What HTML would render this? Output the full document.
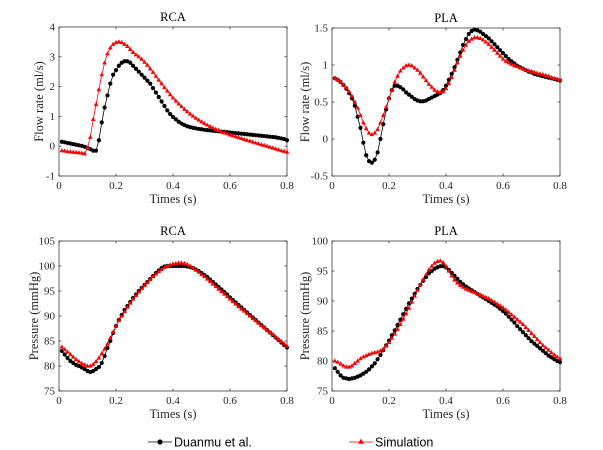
<!DOCTYPE html>
<html><head><meta charset="utf-8"><style>
body{margin:0;background:#fff}
svg{display:block}
</style></head><body>
<svg id="fig" width="603" height="450" viewBox="0 0 603 450"></svg>
<script>
const times=[];for(let i=1;i<=80;i++)times.push(i/100);
const xTicks=[0,0.2,0.4,0.6,0.8];
const xTickLabels=["0","0.2","0.4","0.6","0.8"];
const titles=["RCA","PLA","RCA","PLA"];
const yLabels=["Flow rate (ml/s)","Flow rate (ml/s)","Pressure (mmHg)","Pressure (mmHg)"];
const yTicksRcaFlow=[-1,0,1,2,3,4];
const yTicksPlaFlow=[-0.5,0,0.5,1,1.5];
const yTicksRcaP=[75,80,85,90,95,100,105];
const yTicksPlaP=[75,80,85,90,95,100];
const seriesNames=["Duanmu et al.","Simulation"];
const rcaFlowDuanmu=[.15,.13,.11,.09,.07,.05,.03,.01,-.02,-.06,-.1,-.15,-.15,.2,.8,1.3,1.7,2.1,2.4,2.55,2.7,2.8,2.85,2.85,2.8,2.7,2.6,2.5,2.4,2.3,2.2,2.1,1.95,1.8,1.65,1.5,1.35,1.2,1.08,.98,.9,.82,.76,.71,.67,.64,.62,.6,.58,.57,.55,.54,.53,.52,.51,.5,.49,.48,.47,.46,.45,.44,.43,.42,.41,.4,.39,.38,.37,.36,.35,.34,.33,.32,.31,.3,.28,.26,.24,.2];
const rcaFlowSim=[-.15,-.16,-.18,-.19,-.2,-.21,-.22,-.23,-.25,-.05,.3,.9,1.4,1.9,2.4,2.8,3.1,3.3,3.42,3.48,3.5,3.48,3.42,3.35,3.25,3.15,3.07,3,2.92,2.82,2.72,2.6,2.48,2.35,2.22,2.1,1.97,1.85,1.73,1.62,1.52,1.42,1.33,1.24,1.16,1.08,1.01,.94,.88,.82,.76,.71,.66,.61,.57,.53,.49,.45,.42,.38,.35,.32,.29,.26,.23,.2,.17,.14,.11,.08,.05,.03,0,-.03,-.06,-.09,-.12,-.15,-.17,-.2];
const plaFlowDuanmu=[.82,.8,.77,.73,.68,.62,.55,.45,.3,.15,-.05,-.22,-.3,-.32,-.28,-.18,0,.2,.4,.55,.66,.72,.72,.7,.67,.63,.6,.57,.54,.52,.51,.51,.52,.54,.56,.58,.6,.62,.66,.72,.8,.88,.97,1.07,1.17,1.27,1.35,1.42,1.46,1.48,1.47,1.45,1.42,1.39,1.36,1.32,1.28,1.24,1.2,1.16,1.12,1.08,1.05,1.02,.99,.97,.95,.93,.91,.9,.88,.87,.86,.85,.84,.83,.82,.81,.8,.79];
const plaFlowSim=[.82,.8,.77,.73,.69,.64,.58,.5,.42,.32,.22,.14,.08,.06,.08,.13,.22,.32,.43,.55,.66,.77,.85,.92,.96,.99,1,.99,.96,.93,.89,.84,.79,.74,.7,.66,.64,.63,.64,.68,.75,.83,.93,1.03,1.12,1.2,1.27,1.32,1.35,1.37,1.37,1.36,1.34,1.31,1.28,1.24,1.2,1.16,1.12,1.08,1.05,1.03,1.01,.99,.98,.96,.95,.93,.92,.91,.9,.89,.88,.87,.86,.85,.83,.82,.81,.8];
const rcaPDuanmu=[83,82.3,81.6,81,80.6,80.2,80,79.7,79.4,79,78.8,79,79.4,79.8,80.6,82,83.6,85,86.6,88,89.2,90.2,91.2,92,92.8,93.6,94.3,95,95.6,96.2,96.8,97.4,98,98.6,99.1,99.6,99.9,100,100,100,100,100,100,100,99.9,99.8,99.6,99.3,99,98.6,98.2,97.8,97.3,96.8,96.3,95.8,95.3,94.8,94.3,93.7,93.2,92.7,92.2,91.7,91.2,90.7,90.2,89.7,89.2,88.7,88.2,87.7,87.2,86.7,86.2,85.7,85.2,84.7,84.2,83.7];
const rcaPSim=[83.8,83.3,82.8,82.3,81.8,81.3,80.9,80.5,80.2,80,80,80.3,80.9,81.6,82.5,83.4,84.4,85.6,86.8,88,89.1,90,90.9,91.8,92.6,93.4,94.1,94.8,95.5,96.1,96.7,97.3,97.9,98.4,98.9,99.3,99.7,100,100.2,100.4,100.5,100.6,100.6,100.5,100.3,100,99.6,99.2,98.8,98.3,97.9,97.4,96.9,96.4,95.9,95.4,94.9,94.4,93.9,93.4,92.9,92.4,91.9,91.4,91,90.5,90,89.5,89.1,88.6,88.1,87.7,87.2,86.7,86.3,85.8,85.3,84.9,84.4,84];
const plaPDuanmu=[78.8,78.2,77.6,77.2,77.1,77,77.1,77.2,77.4,77.6,77.9,78.2,78.6,79.1,79.6,80.3,81,81.8,82.6,83.4,84.3,85.1,86,86.9,87.8,88.7,89.6,90.4,91.2,92,92.7,93.4,94,94.6,95,95.4,95.6,95.8,95.8,95.6,95.2,94.7,94.2,93.7,93.2,92.8,92.4,92.1,91.8,91.5,91.2,90.9,90.6,90.3,90,89.7,89.4,89.1,88.7,88.3,87.9,87.4,86.9,86.4,85.8,85.3,84.8,84.3,83.8,83.3,82.9,82.5,82.1,81.7,81.3,80.9,80.6,80.3,80,79.8];
const plaPSim=[80,79.8,79.5,79.2,79,79,79.2,79.6,80,80.4,80.7,80.9,81.1,81.3,81.4,81.5,81.7,82,82.5,83.1,83.8,84.5,85.3,86.1,87,87.9,88.8,89.8,90.8,91.8,92.7,93.6,94.4,95.2,95.8,96.3,96.6,96.7,96.4,95.8,95,94.2,93.5,93,92.6,92.3,92,91.8,91.6,91.4,91.2,91,90.8,90.6,90.4,90.1,89.8,89.5,89.2,88.9,88.5,88.1,87.7,87.3,86.9,86.5,86.1,85.6,85.1,84.6,84.1,83.6,83.1,82.6,82.2,81.8,81.4,81,80.7,80.4];

const NS="http://www.w3.org/2000/svg";
const SERIF='"Liberation Serif", serif';
const SANS='"Liberation Sans", sans-serif';
const svg=document.getElementById('fig');
function mk(tag,attrs,parent){const e=document.createElementNS(NS,tag);for(const k in attrs)e.setAttribute(k,attrs[k]);(parent||svg).appendChild(e);return e;}
const panels=[
 {box:[59,287,27,176],yt:yTicksRcaFlow,d:rcaFlowDuanmu,s:rcaFlowSim,ylx:43},
 {box:[332,560,28,176],yt:yTicksPlaFlow,d:plaFlowDuanmu,s:plaFlowSim,ylx:309},
 {box:[59,287,241,391],yt:yTicksRcaP,d:rcaPDuanmu,s:rcaPSim,ylx:38},
 {box:[332,560,241,391],yt:yTicksPlaP,d:plaPDuanmu,s:plaPSim,ylx:309}];
const names=["rca-flow","pla-flow","rca-pressure","pla-pressure"];
panels.forEach((p,i)=>{
 const [x0,x1,y0,y1]=p.box;
 const ymin=p.yt[0],ymax=p.yt[p.yt.length-1];
 const X=v=>x0+(v-0)/(0.8)*(x1-x0);
 const Y=v=>y1-(v-ymin)/(ymax-ymin)*(y1-y0);
 const g=mk('g',{'font-family':SERIF});
 
 
 const frame=mk('rect',{x:x0,y:y0,width:x1-x0,height:y1-y0,fill:'#fff',stroke:'#262626','stroke-width':0.7},g);
 
 
 xTicks.forEach((t,j)=>{
  mk('line',{x1:X(t),x2:X(t),y1:y1,y2:y1-2.5,stroke:'#262626','stroke-width':0.7},g);
  mk('line',{x1:X(t),x2:X(t),y1:y0,y2:y0+2.5,stroke:'#262626','stroke-width':0.7},g);
  const tx=mk('text',{x:X(t),y:y1+13,'font-size':11,'font-family':SERIF,'text-anchor':'middle',fill:'#262626'},g);
  tx.textContent=xTickLabels[j];
  
  
 });
 p.yt.forEach(t=>{
  mk('line',{x1:x0,x2:x0+2.5,y1:Y(t),y2:Y(t),stroke:'#262626','stroke-width':0.7},g);
  mk('line',{x1:x1,x2:x1-2.5,y1:Y(t),y2:Y(t),stroke:'#262626','stroke-width':0.7},g);
  const tx=mk('text',{x:x0-4,y:Y(t)+3.5,'font-size':11,'font-family':SERIF,'text-anchor':'end',fill:'#262626'},g);
  tx.textContent=String(t);
  
  
 });
 const tt=mk('text',{x:(x0+x1)/2,y:y0-6,'font-size':12.5,'font-family':SERIF,'text-anchor':'middle',fill:'#000'},g);
 tt.textContent=titles[i];
 
 
 const xl=mk('text',{x:(x0+x1)/2,y:y1+27,'font-size':12.5,'font-family':SERIF,'text-anchor':'middle',fill:'#262626'},g);
 xl.textContent='Times (s)';
 
 
 const yl=mk('text',{x:p.ylx,y:(y0+y1)/2,'font-size':12.5,'font-family':SERIF,'text-anchor':'middle',fill:'#262626',transform:`rotate(-90 ${p.ylx} ${(y0+y1)/2})`},g);
 yl.textContent=yLabels[i];
 
 
 const dPts=times.map((t,k)=>X(t).toFixed(1)+','+Y(p.d[k]).toFixed(1)).join(' ');
 const sPts=times.map((t,k)=>X(t).toFixed(1)+','+Y(p.s[k]).toFixed(1)).join(' ');
 const ld=mk('polyline',{points:dPts,fill:'none',stroke:'#000','stroke-width':0.8},g);
 
 
 const ls=mk('polyline',{points:sPts,fill:'none',stroke:'#f00','stroke-width':0.8},g);
 
 
 times.forEach((t,k)=>{
  const c=mk('circle',{cx:X(t),cy:Y(p.d[k]),r:2.1,fill:'#000'},g);
  
  
 });
 times.forEach((t,k)=>{
  const x=X(t),y=Y(p.s[k]);
  const tr=mk('polygon',{points:`${x},${y-2.6} ${x-2.3},${y+1.6} ${x+2.3},${y+1.6}`,fill:'#f00'},g);
  
  
 });
});
const lg=mk('g',{'font-family':SANS});


const e1=mk('g',{},lg);


mk('line',{x1:148,x2:172,y1:442,y2:442,stroke:'#000','stroke-width':0.8},e1);
mk('circle',{cx:160,cy:442,r:2.6,fill:'#000'},e1);
const t1=mk('text',{x:174,y:446.5,'font-size':12.5,'font-family':SANS,fill:'#000'},e1);t1.textContent=seriesNames[0];
const e2=mk('g',{},lg);


mk('line',{x1:349,x2:373,y1:442,y2:442,stroke:'#f00','stroke-width':0.8},e2);
mk('polygon',{points:'361,438.6 358,443.8 364,443.8',fill:'#f00'},e2);
const t2=mk('text',{x:375,y:446.5,'font-size':12.5,'font-family':SANS,fill:'#000'},e2);t2.textContent=seriesNames[1];
</script>
</body></html>
